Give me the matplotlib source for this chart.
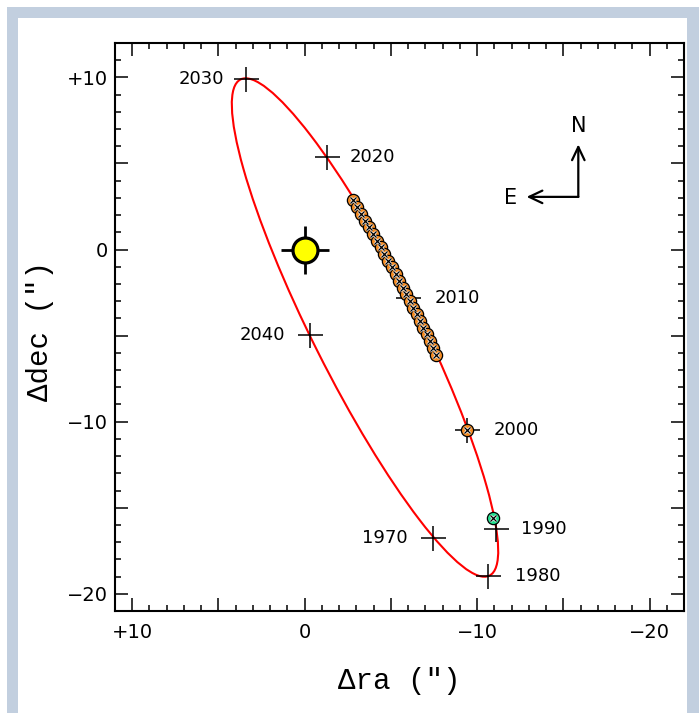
import matplotlib
matplotlib.use("Agg")
import matplotlib.pyplot as plt
from matplotlib.patches import Ellipse, Rectangle
from matplotlib.ticker import MultipleLocator, FuncFormatter

# Apparent orbit of the companion on the sky (arcsec, position angle in degrees)
orbit_center = (-3.50, -4.53)
orbit_semimajor = 16.12
orbit_semiminor = 3.08
orbit_angle = 63.4

# Predicted positions at decade epochs
epoch_years = [1970, 1980, 1990, 2000, 2010, 2020, 2030, 2040]
epoch_ra = [-7.44, -10.64, -11.07, -9.42, -5.99, -1.30, 3.43, -0.29]
epoch_dec = [-16.76, -18.95, -16.22, -10.47, -2.79, 5.37, 9.88, -4.94]
epoch_side = ["left", "right", "right", "right", "right", "right", "left", "left"]
epoch_offset = [18, 19, 18, 19, 19, 16, 15.5, 18]

# Recent astrometric measurements
obs_ra = [-9.42, -2.79, -3.03, -3.27, -3.50, -3.73, -3.96, -4.19, -4.41, -4.63,
          -4.85, -5.06, -5.28, -5.48, -5.69, -5.90, -6.10, -6.30, -6.50, -6.69,
          -6.88, -7.07, -7.26, -7.44, -7.62]
obs_dec = [-10.47, 2.85, 2.46, 2.07, 1.68, 1.29, 0.90, 0.51, 0.13, -0.26,
           -0.65, -1.04, -1.43, -1.82, -2.21, -2.60, -2.99, -3.38, -3.76, -4.15,
           -4.54, -4.93, -5.32, -5.71, -6.10]

# Early measurement
old_ra = [-10.93]
old_dec = [-15.60]

W, H = 699, 713
fig = plt.figure(figsize=(W / 100, H / 100), dpi=100)
fig.patch.set_facecolor("white")

# panel frame
fig.add_artist(Rectangle((7 / W, 0), 1 - 7 / W, 1 - 7 / H, transform=fig.transFigure,
                         facecolor="#c2cfdf", edgecolor="none", zorder=-3))
fig.add_artist(Rectangle((18 / W, 0), (687 - 18) / W, 1 - 17.5 / H, transform=fig.transFigure,
                         facecolor="white", edgecolor="none", zorder=-2))

ax = fig.add_axes([115 / W, (H - 611) / H, (684 - 115) / W, (611 - 43) / H])
ax.set_facecolor("white")
ax.set_xlim(11, -22)
ax.set_ylim(-21, 12)

for s in ax.spines.values():
    s.set_linewidth(1.5)

ax.xaxis.set_major_locator(MultipleLocator(5))
ax.xaxis.set_minor_locator(MultipleLocator(1))
ax.yaxis.set_major_locator(MultipleLocator(5))
ax.yaxis.set_minor_locator(MultipleLocator(1))


def tick_fmt(v, pos):
    iv = int(round(v))
    if iv % 10 != 0:
        return ""
    if iv > 0:
        return "+%d" % iv
    if iv < 0:
        return "\u2212%d" % (-iv)
    return "0"


ax.xaxis.set_major_formatter(FuncFormatter(tick_fmt))
ax.yaxis.set_major_formatter(FuncFormatter(tick_fmt))
ax.tick_params(which="both", direction="in", top=True, right=True, width=1.1)
ax.tick_params(which="major", length=9.5, labelsize=14)
ax.tick_params(which="minor", length=4.5)
ax.tick_params(axis="x", pad=9)
ax.tick_params(axis="y", pad=5)
for lab in ax.get_xticklabels() + ax.get_yticklabels():
    lab.set_fontfamily("DejaVu Sans")

# orbit
ax.add_patch(Ellipse(orbit_center, 2 * orbit_semimajor, 2 * orbit_semiminor,
                     angle=orbit_angle, fill=False, edgecolor="#ff0000", lw=1.5, zorder=2))

# epoch crosses with year labels
ax.plot(epoch_ra, epoch_dec, linestyle="none", marker="+", ms=18, mew=1.1,
        color="black", zorder=3)
for yr, x, y, side, off in zip(epoch_years, epoch_ra, epoch_dec, epoch_side, epoch_offset):
    dx = off if side == "right" else -off
    ax.annotate(str(yr), (x, y), xytext=(dx, 0), textcoords="offset points",
                ha="left" if side == "right" else "right", va="center",
                fontsize=13, family="DejaVu Sans", color="black")

# measurements
ax.plot(obs_ra, obs_dec, linestyle="none", marker="o", ms=8.8, mfc="#f58a1f",
        mec="black", mew=0.9, zorder=4)
ax.plot(old_ra, old_dec, linestyle="none", marker="o", ms=8.8, mfc="#22e08f",
        mec="black", mew=0.9, zorder=4)
all_ra = obs_ra + old_ra
all_dec = obs_dec + old_dec
ax.plot(all_ra, all_dec, linestyle="none", marker="x", ms=5.0, mew=1.9,
        color="#f0f0f0", zorder=5)
ax.plot(all_ra, all_dec, linestyle="none", marker="x", ms=5.0, mew=0.9,
        color="black", zorder=6)

# host star
ax.plot([0], [0], marker="+", ms=34, mew=2.0, color="black", zorder=7)
ax.plot([0], [0], marker="o", ms=18, mfc="#ffff00", mec="black", mew=2.3, zorder=8)

# compass
corner = (-15.87, 3.06)
arrow_kw = dict(arrowstyle="->", lw=1.6, shrinkA=0, shrinkB=0,
                mutation_scale=10, color="black")
ax.annotate("", xy=(corner[0], corner[1] + 3.05), xytext=corner,
            arrowprops=dict(arrow_kw, arrowstyle="->,head_length=0.95,head_width=0.45"))
ax.annotate("", xy=(corner[0] + 3.0, corner[1]), xytext=corner,
            arrowprops=dict(arrow_kw, arrowstyle="->,head_length=0.95,head_width=0.45"))
ax.text(corner[0], corner[1] + 4.1, "N", ha="center", va="center", fontsize=15,
        family="DejaVu Sans")
ax.text(corner[0] + 3.95, corner[1] - 0.05, "E", ha="center", va="center", fontsize=15,
        family="DejaVu Sans")

# axis titles
fig.text(399 / W, 1 - 681 / H, "\u0394ra (\")", ha="center", va="center",
         fontsize=21, family="Liberation Mono")
fig.text(40 / W, 1 - 331 / H, "\u0394dec (\")", ha="center", va="center",
         fontsize=21, family="Liberation Mono", rotation=90)

fig.savefig("out.png", dpi=100)
